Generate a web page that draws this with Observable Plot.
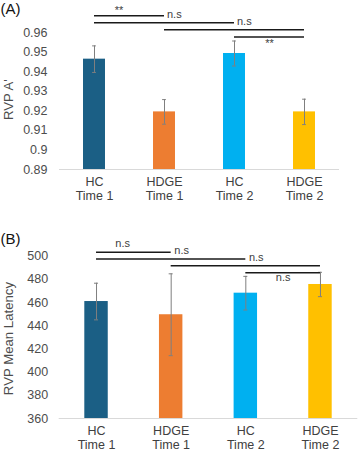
<!DOCTYPE html>
<html>
<head>
<meta charset="utf-8">
<script src="https://cdn.jsdelivr.net/npm/d3@7"></script>
<script src="https://cdn.jsdelivr.net/npm/@observablehq/plot@0.6"></script>
<style>
  body { margin: 0; background: #fff; }
  #chart { width: 360px; height: 452px; font-family: "Liberation Sans", Arial, sans-serif; }
  #chart svg { display: block; }
</style>
</head>
<body>
<div id="chart"></div>
<script>
// Groups (x categories) and their bar colours
const groups = ["HC\nTime 1", "HDGE\nTime 1", "HC\nTime 2", "HDGE\nTime 2"];
const groupColors = ["#1b5f85", "#ed7d31", "#00b0f0", "#ffc000"];

// (A) RVP A' : means and error bars
const accuracyMean = [0.9465, 0.9195, 0.9494, 0.9195];
const accuracyErr = [0.0068, 0.0063, 0.0064, 0.0065];
const accuracyTicks = [0.89, 0.9, 0.91, 0.92, 0.93, 0.94, 0.95, 0.96];
const accuracyPairs = [[0, 1], [0, 2], [1, 3], [2, 3]];
const accuracySig = ["**", "n.s", "n.s", "**"];

// (B) RVP mean latency : means and error bars
const latencyMean = [460.9, 449.5, 468.1, 475.6];
const latencyErr = [15.8, 35.3, 14.5, 10.5];
const latencyTicks = [360, 380, 400, 420, 440, 460, 480, 500];
const latencyPairs = [[0, 1], [0, 2], [1, 3], [2, 3]];
const latencySig = ["n.s", "n.s", "n.s", "n.s"];

const font = `"Liberation Sans", Arial, sans-serif`;

function panel(cfg) {
  const rows = groups.map((g, i) => ({group: g, i, mean: cfg.means[i], err: cfg.errs[i]}));
  const brackets = cfg.pairs.map(([a, b], k) => ({a, b, y: cfg.bracketTop - k * cfg.bracketStep, label: cfg.sig[k]}));
  const base = cfg.ticks[0];
  const top = cfg.ticks[cfg.ticks.length - 1];
  const hw = 0.157;   // half bar width, in category units
  const cap = 0.027;  // half error-cap width

  // where each significance label sits along / around its bracket
  const placement = [
    {t: 0.35, side: "above"},
    {t: 0.57, side: "above"},
    {t: 0.57, side: "above"},
    {t: 0.5, side: "below"}
  ];
  const labelMarks = brackets.map((b, k) => {
    const p = placement[k];
    const star = b.label === "**";
    const dy = p.side === "above" ? (star ? -5 : -8.5) : (star ? 7 : 4.7);
    return Plot.text([b], {
      x: d => d.a + p.t * (d.b - d.a), y: "y", text: "label",
      dy, fontSize: 11, fill: "#404040"
    });
  });

  return Plot.plot({
    width: 360,
    height: cfg.height,
    marginTop: cfg.marginTop,
    marginBottom: cfg.marginBottom,
    marginLeft: cfg.marginLeft,
    marginRight: cfg.marginRight,
    x: {domain: [-0.5, groups.length - 0.5]},
    y: {domain: [base, top]},
    color: {domain: groups, range: groupColors},
    style: {fontFamily: font, fontSize: "12.5px", color: "#4d4d4d", background: "white", overflow: "visible"},
    marks: [
      Plot.rectY(rows, {x1: d => d.i - hw, x2: d => d.i + hw, y1: base, y2: "mean", fill: "group"}),
      Plot.ruleY([base], {stroke: "#d9d9d9", strokeWidth: 1}),
      Plot.ruleX(rows, {x: "i", y1: d => d.mean - d.err, y2: d => d.mean + d.err, stroke: "#7f7f7f", strokeWidth: 1}),
      Plot.ruleY(rows, {x1: d => d.i - cap, x2: d => d.i + cap, y: d => d.mean + d.err, stroke: "#7f7f7f", strokeWidth: 1}),
      Plot.ruleY(rows, {x1: d => d.i - cap, x2: d => d.i + cap, y: d => d.mean - d.err, stroke: "#7f7f7f", strokeWidth: 1}),
      Plot.ruleY(brackets, {x1: "a", x2: "b", y: "y", stroke: "#1a1a1a", strokeWidth: 1.5}),
      ...labelMarks,
      Plot.axisY(cfg.ticks, {tickFormat: d => String(d), tickSize: 0, tickPadding: cfg.tickPadding, label: null, fontSize: 12.5, fill: "#4d4d4d"}),
      Plot.axisX([0, 1, 2, 3], {tickFormat: i => groups[i], tickSize: 0, tickPadding: 6, label: null, fontSize: 12.5, lineHeight: 1.14, fill: "#404040"}),
      Plot.text([cfg.title], {frameAnchor: "left", textAnchor: "middle", rotate: -90, dx: cfg.titleDx, dy: cfg.titleDy, fontSize: 13.2, fill: "#4d4d4d"}),
      // panel tag, top-left corner
      Plot.text([cfg.tag], {frameAnchor: "top-left", textAnchor: "start", lineAnchor: "top", dx: -cfg.marginLeft, dy: cfg.tagDy, fontSize: 15, fill: "#111"})
    ]
  });
}

const chart = document.getElementById("chart");

chart.append(panel({
  height: 220, marginTop: 32.3, marginBottom: 51, marginLeft: 59, marginRight: 21,
  means: accuracyMean, errs: accuracyErr, ticks: accuracyTicks,
  pairs: accuracyPairs, sig: accuracySig,
  bracketTop: 0.9687, bracketStep: 0.0036,
  tickPadding: 12, title: "RVP A'", titleDx: -50.7, titleDy: -1.5,
  tag: "(A)", tagDy: -29
}));

chart.append(panel({
  height: 232, marginTop: 35.7, marginBottom: 34, marginLeft: 58.7, marginRight: 2.7,
  means: latencyMean, errs: latencyErr, ticks: latencyTicks,
  pairs: latencyPairs, sig: latencySig,
  bracketTop: 503.5, bracketStep: 5.9,
  tickPadding: 11, title: "RVP Mean Latency", titleDx: -50.4, titleDy: 1.2,
  tag: "(B)", tagDy: -22.9
}));
</script>
</body>
</html>
